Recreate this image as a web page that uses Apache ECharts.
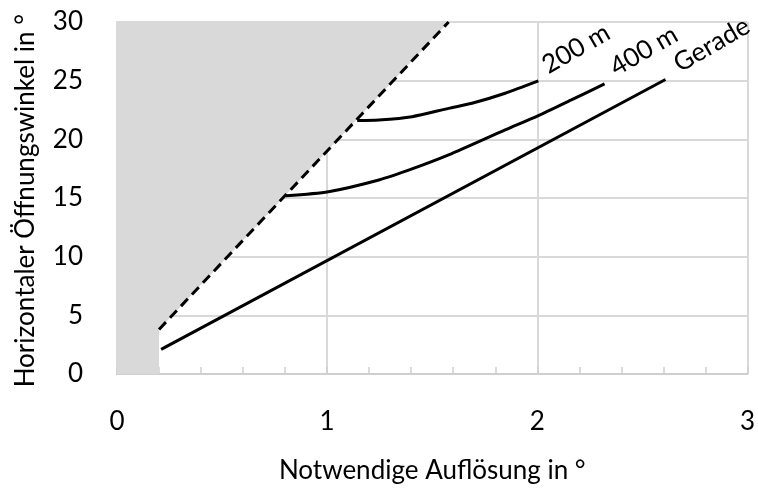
<!DOCTYPE html>
<html>
<head>
<meta charset="utf-8">
<script src="https://cdn.jsdelivr.net/npm/echarts@6/dist/echarts.min.js"></script>
<style>
  html, body { margin: 0; padding: 0; background: #fff; }
  #chart { width: 758px; height: 490px; }
</style>
</head>
<body>
<div id="chart"></div>
<script>
// Werte
var xTicks = [0, 1, 2, 3];
var yTicks = [0, 5, 10, 15, 20, 25, 30];

// Grenze (gestrichelt) und unzulässiger Bereich
var grenze = [[0.2, 3.8], [1.578, 30]];
var sperrBereich = [[0, 0], [0.2, 0], [0.2, 3.8], [1.578, 30], [0, 30]];

var gerade = [[0.21, 2.1], [2.61, 25.1]];
var kurve400 = [[0.804, 15.2], [1.006, 15.54], [1.246, 16.54], [1.404, 17.48], [1.578, 18.67], [1.847, 20.8], [2.005, 22.02], [2.162, 23.36], [2.32, 24.72]];
var kurve200 = [[1.143, 21.6], [1.246, 21.65], [1.404, 21.93], [1.578, 22.64], [1.689, 23.07], [1.847, 23.93], [2.005, 24.98]];

var font = "Lato";
var myChart = echarts.init(document.getElementById("chart"));

function endLabel(text, dx, dy) {
  return {
    show: true,
    formatter: text,
    rotate: 30,
    fontFamily: font,
    fontSize: 26,
    color: "#000",
    distance: 0,
    offset: [dx, dy],
    align: "left",
    verticalAlign: "bottom",
  };
}

var option = {
  animation: false,
  grid: { left: 117, right: 8, top: 22, bottom: 116 },
  xAxis: {
    type: "value",
    min: 0,
    max: 3,
    interval: 1,
    name: "Notwendige Auflösung in °",
    nameLocation: "middle",
    nameGap: 84,
    nameTextStyle: { fontFamily: font, fontSize: 26, color: "#000" },
    axisLine: { show: true, lineStyle: { color: "#cfcfcf", width: 2 } },
    axisTick: { show: true, inside: true, length: 7, lineStyle: { color: "#cfcfcf", width: 1.5 } },
    minorTick: { show: true, splitNumber: 5, length: 7, lineStyle: { color: "#cfcfcf", width: 1.5 } },
    axisLabel: { fontFamily: font, fontSize: 26, color: "#000", margin: 35 },
    splitLine: { show: true, lineStyle: { color: "#d9d9d9", width: 2 } },
  },
  yAxis: {
    type: "value",
    min: 0,
    max: 30,
    interval: 5,
    axisLine: { show: true, lineStyle: { color: "#d9d9d9", width: 2 } },
    axisTick: { show: false },
    axisLabel: { fontFamily: font, fontSize: 26, color: "#000", margin: 34 },
    splitLine: { show: true, lineStyle: { color: "#d9d9d9", width: 2 } },
  },
  graphic: [
    {
      type: "text",
      left: 13,
      top: 14,
      rotation: Math.PI / 2,
      style: {
        text: "Horizontaler Öffnungswinkel in °",
        fontFamily: font,
        fontSize: 26,
        fill: "#000",
      },
    },
  ],
  series: [
    {
      type: "custom",
      silent: true,
      z: 1,
      renderItem: function (params, api) {
        if (params.dataIndex > 0) return;
        var pts = sperrBereich.map(function (p) { return api.coord(p); });
        return {
          type: "polygon",
          shape: { points: pts },
          style: { fill: "#d9d9d9" },
        };
      },
      data: [0],
    },
    {
      type: "line",
      data: grenze,
      symbol: "none",
      z: 3,
      lineStyle: { color: "#000", width: 3, type: [10, 6] },
    },
    {
      type: "line",
      data: gerade,
      symbol: "none",
      z: 3,
      lineStyle: { color: "#000", width: 3 },
      endLabel: endLabel("Gerade", 16, 6),
    },
    {
      type: "line",
      data: kurve400,
      symbol: "none",
      smooth: 0.25,
      z: 3,
      lineStyle: { color: "#000", width: 3 },
      endLabel: endLabel("400 m", 14, 4),
    },
    {
      type: "line",
      data: kurve200,
      symbol: "none",
      smooth: 0.25,
      z: 3,
      lineStyle: { color: "#000", width: 3 },
      endLabel: endLabel("200 m", 12, 4),
    },
  ],
};

myChart.setOption(option);
</script>
</body>
</html>
